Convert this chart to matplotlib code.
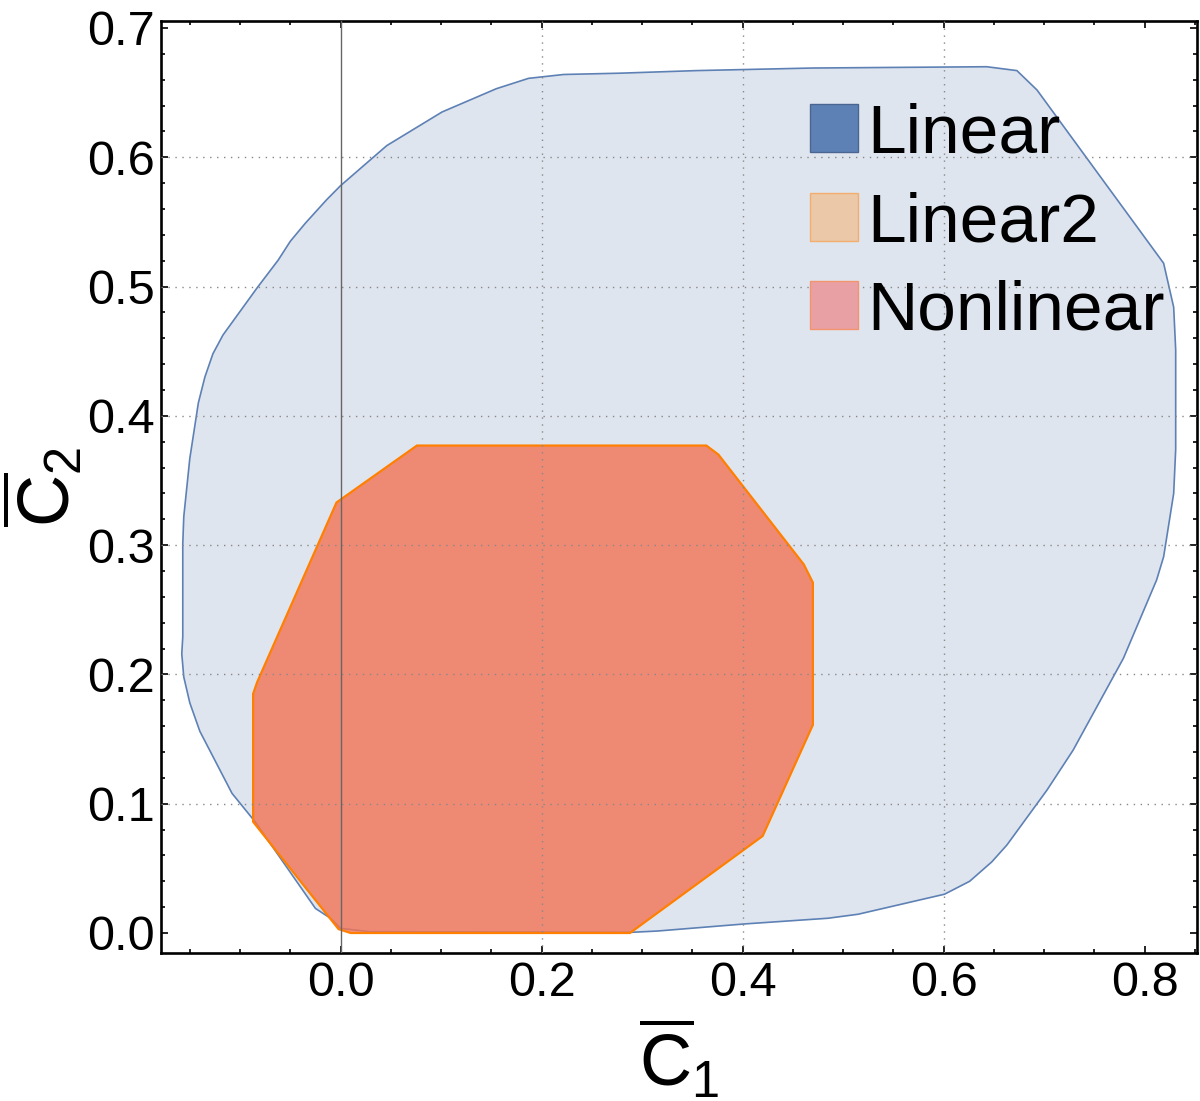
import matplotlib
matplotlib.use('Agg')
import matplotlib.pyplot as plt
from matplotlib.patches import Polygon, Patch
from matplotlib.ticker import MultipleLocator, FormatStrFormatter

plt.rcParams['font.family'] = ['Liberation Sans', 'DejaVu Sans']
plt.rcParams['mathtext.fontset'] = 'custom'
plt.rcParams['mathtext.rm'] = 'Liberation Sans'
plt.rcParams['mathtext.it'] = 'Liberation Sans:italic'

# region boundaries (c1bar, c2bar)
linear_x = [0.000, 0.046, 0.101, 0.155, 0.187, 0.222, 0.278, 0.354, 0.470, 0.643,
            0.673, 0.693, 0.819, 0.829, 0.831, 0.831, 0.829, 0.819, 0.812, 0.779,
            0.729, 0.703, 0.663, 0.648, 0.626, 0.601, 0.515, 0.485, 0.402, 0.315,
            0.289, 0.029, 0.000, -0.010, -0.025, -0.085, -0.108, -0.140, -0.150, -0.156,
            -0.158, -0.157, -0.157, -0.156, -0.150, -0.1415, -0.135, -0.127, -0.117, -0.083,
            -0.062, -0.050, -0.035, -0.014]
linear_y = [0.578, 0.609, 0.635, 0.653, 0.661, 0.664, 0.665, 0.667, 0.669, 0.670,
            0.667, 0.652, 0.518, 0.484, 0.451, 0.374, 0.340, 0.291, 0.273, 0.2125,
            0.1415, 0.1106, 0.068, 0.055, 0.040, 0.030, 0.0145, 0.0114, 0.007, 0.0015,
            0.0005, 0.001, 0.0036, 0.0114, 0.019, 0.086, 0.108, 0.156, 0.178, 0.198,
            0.216, 0.229, 0.301, 0.322, 0.367, 0.410, 0.430, 0.448, 0.4625, 0.499,
            0.5205, 0.535, 0.549, 0.567]

nonlinear_x = [-0.004, 0.076, 0.364, 0.376, 0.461, 0.470, 0.470, 0.420, 0.288, 0.010,
               -0.002, -0.087, -0.087, -0.083]
nonlinear_y = [0.333, 0.377, 0.377, 0.370, 0.285, 0.271, 0.161, 0.075, 0.000, 0.000,
               0.003, 0.086, 0.185, 0.194]

labels = ['Linear', 'Linear2', 'Nonlinear']
x_ticks = [0.0, 0.2, 0.4, 0.6, 0.8]
y_ticks = [0.0, 0.1, 0.2, 0.3, 0.4, 0.5, 0.6, 0.7]
grid_x = [0.2, 0.4, 0.6]
grid_y = [0.1, 0.2, 0.3, 0.4, 0.5, 0.6]

fig = plt.figure(figsize=(12, 11.01), dpi=100)
ax = fig.add_axes([0.1338, 0.1347, 0.8637, 0.8465])

ax.add_patch(Polygon(list(zip(linear_x, linear_y)), closed=True,
                     facecolor='#dfe5ef', edgecolor='#5e81b5', lw=1.2, zorder=1))
ax.add_patch(Polygon(list(zip(nonlinear_x, nonlinear_y)), closed=True,
                     facecolor='#f37355', alpha=0.8, edgecolor='none', zorder=2))
ax.add_patch(Polygon(list(zip(nonlinear_x, nonlinear_y)), closed=True,
                     facecolor='none', edgecolor='#ff8000', lw=1.6, zorder=2.5))

for g in grid_x:
    ax.axvline(g, color='#888888', lw=1.0, ls=(0, (1, 4)), zorder=3)
for g in grid_y:
    ax.axhline(g, color='#888888', lw=1.0, ls=(0, (1, 4)), zorder=3)
ax.axvline(0, color='#666666', lw=1.0, zorder=3)

ax.set_xlim(-0.1791, 0.8522)
ax.set_ylim(-0.01524, 0.7056)

ax.set_xticks(x_ticks)
ax.set_yticks(y_ticks)
ax.xaxis.set_minor_locator(MultipleLocator(0.05))
ax.yaxis.set_minor_locator(MultipleLocator(0.02))
ax.xaxis.set_major_formatter(FormatStrFormatter('%.1f'))
ax.yaxis.set_major_formatter(FormatStrFormatter('%.1f'))
ax.tick_params(which='both', direction='in', top=True, right=True, width=1.2,
               labelsize=35, color='black')
ax.tick_params(which='major', length=5, pad=6)
ax.tick_params(which='minor', length=3)
ax.tick_params(axis='y', pad=4)
for s in ax.spines.values():
    s.set_linewidth(1.9)

ax.set_xlabel(r'$\overline{\mathrm{C}}_1$', fontsize=52, labelpad=8)
ax.set_ylabel(r'$\overline{\mathrm{C}}_2$', fontsize=52, labelpad=1)

handles = [Patch(facecolor='#5e81b5', edgecolor='#4a6590', lw=1),
           Patch(facecolor='#ebc8a8', edgecolor='#f3ad6e', lw=1),
           Patch(facecolor='#e8a0a4', edgecolor='#f3956c', lw=1)]
ax.legend(handles, labels, loc='upper left', bbox_to_anchor=(0.6266, 0.912),
          frameon=False, fontsize=50, handlelength=0.69, handleheight=0.69,
          handletextpad=0.14, labelspacing=0.35, borderpad=0, borderaxespad=0)

fig.savefig('out.png', dpi=100)
